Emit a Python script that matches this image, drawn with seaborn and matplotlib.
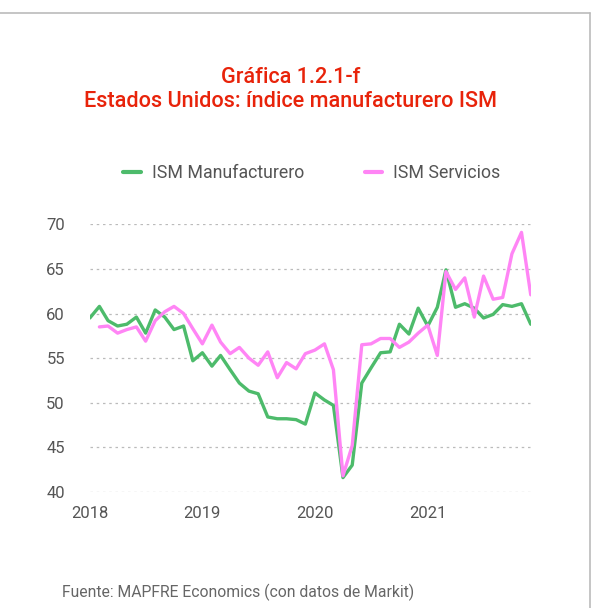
import pandas as pd
import numpy as np
import seaborn as sns
import matplotlib.pyplot as plt
import matplotlib.dates as mdates
from matplotlib.lines import Line2D

# datos mensuales ene-2018 a dic-2021
fechas = pd.date_range("2018-01-01", "2021-12-01", freq="MS")

ism_manuf = [59.5, 60.8, 59.2, 58.6, 58.8, 59.6, 57.8, 60.4, 59.6, 58.2, 58.6, 54.7,
             55.6, 54.1, 55.3, 53.7, 52.2, 51.3, 51.0, 48.4, 48.2, 48.2, 48.1, 47.6,
             51.1, 50.3, 49.7, 41.6, 43.0, 52.2, 53.9, 55.6, 55.7, 58.8, 57.7, 60.6,
             58.6, 60.7, 64.9, 60.7, 61.1, 60.6, 59.5, 59.9, 61.0, 60.8, 61.1, 58.8]

ism_serv = [np.nan, 58.5, 58.6, 57.8, 58.2, 58.5, 56.9, 59.2, 60.2, 60.8, 60.0, 58.3,
            56.6, 58.7, 56.8, 55.5, 56.2, 55.0, 54.2, 55.7, 52.8, 54.5, 53.8, 55.5,
            55.9, 56.6, 53.7, 41.8, 45.2, 56.5, 56.6, 57.2, 57.2, 56.2, 56.8, 57.8,
            58.7, 55.3, 64.7, 62.7, 64.0, 59.6, 64.2, 61.6, 61.8, 66.7, 69.1, 62.1]

series = ["ISM Manufacturero", "ISM Servicios"]
colores = ["#4dbb6b", "#ff85f5"]

df = pd.DataFrame({"fecha": list(fechas) * 2,
                   "valor": ism_manuf + ism_serv,
                   "serie": [series[0]] * len(fechas) + [series[1]] * len(fechas)})

sns.set_style("white")
plt.rcParams['font.family'] = ['Roboto', 'DejaVu Sans']

fig = plt.figure(figsize=(5.95, 6.08), dpi=100)
ax = fig.add_axes([0.151, 0.191, 0.741, 0.440])

sns.lineplot(data=df, x="fecha", y="valor", hue="serie", hue_order=series,
             palette=colores, linewidth=2.4, ax=ax, legend=False)

ax.set_xlim(fechas[0], fechas[-1])
ax.set_ylim(40, 70)
ax.set_yticks([40, 45, 50, 55, 60, 65, 70])
ax.xaxis.set_major_locator(mdates.YearLocator())
ax.xaxis.set_major_formatter(mdates.DateFormatter("%Y"))
ax.set_xlabel("")
ax.set_ylabel("")
ax.tick_params(axis="both", length=0, labelsize=12, labelcolor="#555555")
ax.tick_params(axis="y", pad=18)
ax.tick_params(axis="x", pad=10)
ax.grid(axis="y", linestyle=(0, (2, 3)), color="#bbbbbb", linewidth=0.9)
for s in ax.spines.values():
    s.set_visible(False)

handles = [Line2D([0], [0], color=c, linewidth=3) for c in colores]
fig.legend(handles, series, loc="center", bbox_to_anchor=(0.524, 0.715), ncol=2,
           frameon=False, fontsize=12.8, handlelength=1.0, handletextpad=0.6,
           columnspacing=3.4, labelcolor="#555555")

fig.text(0.488, 0.873, "Gráfica 1.2.1-f", ha="center", va="center",
         color="#e8230a", fontsize=15.6, fontweight="medium")
fig.text(0.488, 0.833, "Estados Unidos: índice manufacturero ISM", ha="center",
         va="center", color="#e8230a", fontsize=15.6, fontweight="medium")
fig.text(0.105, 0.025, "Fuente: MAPFRE Economics (con datos de Markit)",
         ha="left", va="center", color="#666666", fontsize=11.3)

# marco de pagina
fig.add_artist(Line2D([0, 0.992], [0.979, 0.979], color="#bbbbbb", linewidth=1.2))
fig.add_artist(Line2D([0.992, 0.992], [0, 0.979], color="#bbbbbb", linewidth=1.2))

fig.savefig("out.png", dpi=100)
